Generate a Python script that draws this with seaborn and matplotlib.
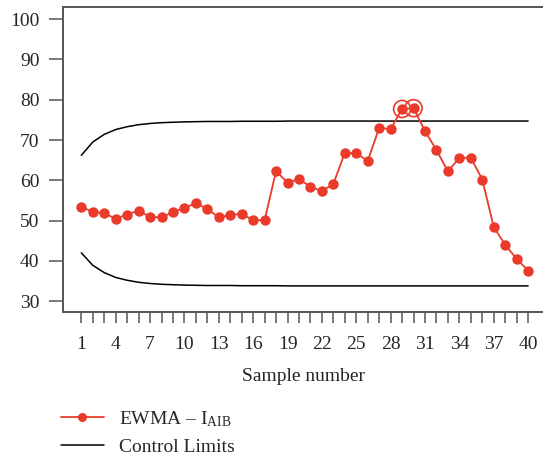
import numpy as np
import pandas as pd
import matplotlib
matplotlib.use("Agg")
import matplotlib.pyplot as plt
from matplotlib.lines import Line2D
import seaborn as sns

samples = list(range(1, 41))
ewma = [53.4, 52.2, 51.8, 50.5, 51.5, 52.5, 50.9, 50.8, 52.1, 53.2,
        54.3, 52.9, 50.8, 51.4, 51.7, 50.1, 50.1, 62.3, 59.4, 60.3,
        58.4, 57.3, 59.1, 66.8, 66.7, 64.8, 73.0, 72.7, 77.7, 77.9,
        72.2, 67.5, 62.2, 65.6, 65.6, 60.2, 48.4, 44.0, 40.5, 37.6]
ucl = [66.2, 69.5, 71.4, 72.6, 73.3, 73.8, 74.1, 74.3, 74.4, 74.5,
       74.55, 74.6, 74.6, 74.6, 74.65, 74.65, 74.65, 74.65, 74.7, 74.7,
       74.7, 74.7, 74.7, 74.7, 74.7, 74.7, 74.7, 74.7, 74.7, 74.7,
       74.7, 74.7, 74.7, 74.7, 74.7, 74.7, 74.7, 74.7, 74.7, 74.7]
lcl = [42.0, 38.9, 37.1, 35.9, 35.2, 34.7, 34.4, 34.2, 34.1, 34.0,
       33.95, 33.9, 33.9, 33.9, 33.85, 33.85, 33.85, 33.85, 33.8, 33.8,
       33.8, 33.8, 33.8, 33.8, 33.8, 33.8, 33.8, 33.8, 33.8, 33.8,
       33.8, 33.8, 33.8, 33.8, 33.8, 33.8, 33.8, 33.8, 33.8, 33.8]
out_of_control = [29, 30]
xtick_labels = [1, 4, 7, 10, 13, 16, 19, 22, 25, 28, 31, 34, 37, 40]
yticks = [30, 40, 50, 60, 70, 80, 90, 100]

sns.set_style("white")
plt.rcParams['font.family'] = ['Liberation Serif', 'DejaVu Serif']
plt.rcParams['mathtext.fontset'] = 'custom'
plt.rcParams['mathtext.rm'] = 'Liberation Serif'

RED = "#EA3A2A"
SPINE = "#555555"
FS = 14

df = pd.DataFrame({"sample": samples, "ewma": ewma, "ucl": ucl, "lcl": lcl})

fig = plt.figure(figsize=(5.43, 4.57), dpi=100)
ax = fig.add_axes([63/543, 1 - 311.7/457, 1 - 63/543, (311.7 - 7)/457])

sns.lineplot(data=df, x="sample", y="ucl", color="black", lw=1.1, ax=ax)
sns.lineplot(data=df, x="sample", y="lcl", color="black", lw=1.1, ax=ax)
sns.lineplot(data=df, x="sample", y="ewma", color=RED, lw=1.3, marker="o",
             markersize=7.5, markeredgewidth=0, ax=ax)
ooc = df[df["sample"].isin(out_of_control)]
sns.scatterplot(data=ooc, x="sample", y="ewma", s=150, facecolor="none",
                edgecolor=RED, linewidth=1.2, ax=ax, zorder=5)

ax.set_xlim(-0.6, 41.3)
ax.set_ylim(27.4, 103.0)
ax.set_xticks(samples)
ax.set_xticklabels([str(s) if s in xtick_labels else "" for s in samples])
ax.set_yticks(yticks)
ax.tick_params(axis="x", direction="out", length=8, width=1.1, color=SPINE,
               labelsize=FS, pad=9.2, bottom=True)
ax.tick_params(axis="y", direction="out", length=10, width=1.1, color=SPINE,
               labelsize=FS, pad=7, left=True)
for s in ["left", "top", "bottom"]:
    ax.spines[s].set_color(SPINE)
    ax.spines[s].set_linewidth(1.4)
ax.spines["right"].set_visible(False)
ax.set_xlabel("Sample number", fontsize=FS, labelpad=10.8)
ax.set_ylabel("")

handles = [
    Line2D([], [], color=RED, lw=1.3, marker="o", markersize=6.5, markeredgewidth=0),
    Line2D([], [], color="black", lw=1.1),
]
labels = [r"EWMA – I$\mathregular{_{AIB}}$", "Control Limits"]
fig.legend(handles, labels, loc="upper left", bbox_to_anchor=(0.112, 0.105),
           frameon=False, fontsize=FS, borderpad=0, borderaxespad=0,
           handlelength=2.2, handletextpad=0.8, labelspacing=0.5)

fig.savefig("out.png", dpi=100)
